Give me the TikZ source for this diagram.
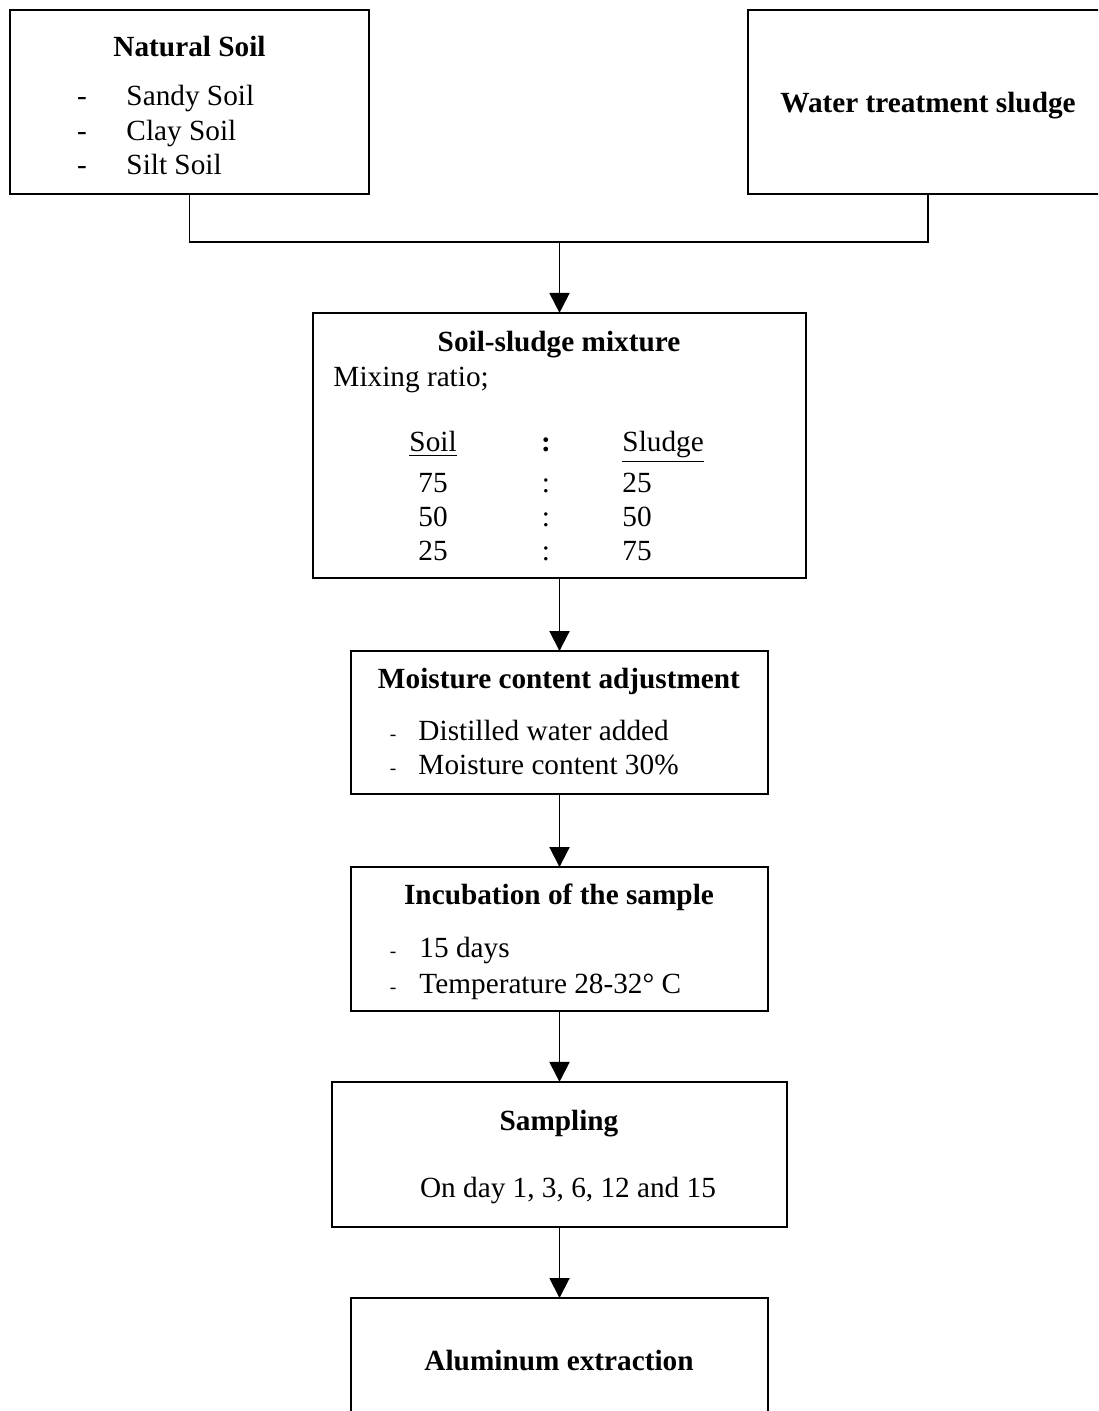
\documentclass[tikz,border=0pt]{standalone}
\usepackage{fontspec}
\setmainfont{Liberation Serif}
\usepackage{tikz}
\usetikzlibrary{arrows.meta,positioning}

\begin{document}
\begin{tikzpicture}[
    x=0.41pt, y=-0.41pt,
    box/.style={draw, line width=0.8pt, inner sep=0pt, outer sep=0pt},
    head/.style={font=\fontsize{12pt}{14pt}\selectfont\bfseries, anchor=base, inner sep=0pt},
    txt/.style={font=\fontsize{12pt}{14pt}\selectfont, anchor=base west, inner sep=0pt},
    hyph/.style={font=\fontsize{12pt}{14pt}\selectfont, anchor=base, inner sep=0pt},
    smallhyph/.style={font=\fontsize{8pt}{10pt}\selectfont, anchor=base, inner sep=0pt},
    conn/.style={line width=0.8pt},
    arrow/.style={-{Triangle[length=8.2pt, width=8.2pt]}, line width=0.8pt}
]
\clip (0,0) rectangle (1098,1411);

% boxes
\node[box, minimum width=147.2pt, minimum height=75.4pt] (soil) at (189.5,102) {};
\node[box, minimum width=147.6pt, minimum height=75.4pt] (sludge) at (928,102) {};
\node[box, minimum width=202.1pt, minimum height=108.7pt] (mix) at (559.5,445.5) {};
\node[box, minimum width=171.0pt, minimum height=58.6pt] (moist) at (559.5,722.5) {};
\node[box, minimum width=171.0pt, minimum height=59.0pt] (incub) at (559.5,939) {};
\node[box, minimum width=186.6pt, minimum height=59.5pt] (sampl) at (559.5,1154.5) {};
\node[box, minimum width=170.6pt, minimum height=57.4pt] (alum) at (559.5,1368) {};

% natural soil
\node[head] (soilT) at (189.5,57) {Natural Soil};
\node[hyph] (soilD1) at (82,106) {-};
\node[hyph] (soilD2) at (82,141) {-};
\node[hyph] (soilD3) at (82,175) {-};
\node[txt] (soil1) at (126,106) {Sandy Soil};
\node[txt] (soil2) at (126,141) {Clay Soil};
\node[txt] (soil3) at (126,175) {Silt Soil};

% sludge
\node[head] (sludgeT) at (928,113) {Water treatment sludge};

% mixture
\node[head] (mixT) at (559,352) {Soil-sludge mixture};
\node[txt] (mixR) at (333,387) {Mixing ratio;};
\node[txt] (mixH1) at (409,452) {\underline{Soil}};
\node[head] (mixHc) at (546,452) {:};
\node[txt] (mixH2) at (622,452) {\underline{Sludge}};
\node[txt] (mixA1) at (418,493) {75};
\node[hyph] (mixAc) at (546,493) {:};
\node[txt] (mixA2) at (622,493) {25};
\node[txt] (mixB1) at (418,527) {50};
\node[hyph] (mixBc) at (546,527) {:};
\node[txt] (mixB2) at (622,527) {50};
\node[txt] (mixC1) at (418,560) {25};
\node[hyph] (mixCc) at (546,560) {:};
\node[txt] (mixC2) at (622,560) {75};

% moisture
\node[head] (moistT) at (559,688) {Moisture content adjustment};
\node[smallhyph] (moistD1) at (393,740) {-};
\node[smallhyph] (moistD2) at (393,774) {-};
\node[txt] (moist1) at (418,740) {Distilled water added};
\node[txt] (moist2) at (418,774) {Moisture content 30\%};

% incubation
\node[head] (incubT) at (559,904) {Incubation of the sample};
\node[smallhyph] (incubD1) at (393,957) {-};
\node[smallhyph] (incubD2) at (393,993) {-};
\node[txt] (incub1) at (419,957) {15 days};
\node[txt] (incub2) at (419,993) {Temperature 28-32° C};

% sampling
\node[head] (samplT) at (559,1130) {Sampling};
\node[hyph] (sampl1) at (568,1197) {On day 1, 3, 6, 12 and 15};

% aluminum
\node[head] (alumT) at (559,1370) {Aluminum extraction};

% connectors
\coordinate (join) at (559.5,242);
\draw[conn] (soil.south) |- (join);
\draw[conn] (sludge.south) |- (join);
\draw[arrow] (join) -- (mix);
\draw[arrow] (mix) -- (moist);
\draw[arrow] (moist) -- (incub);
\draw[arrow] (incub) -- (sampl);
\draw[arrow] (sampl) -- (alum);
\end{tikzpicture}
\end{document}
